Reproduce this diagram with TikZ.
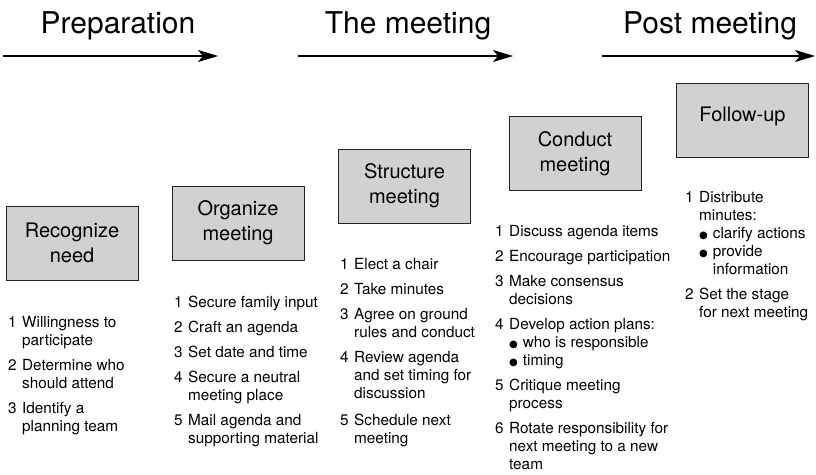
\documentclass[tikz,border=0pt]{standalone}
\usepackage{fontspec}
\setmainfont{TeX Gyre Heros}
\newfontfamily\symfont{DejaVu Sans}
\usetikzlibrary{arrows.meta}

\tikzset{
  phase/.style={font=\fontsize{30}{36}\selectfont, anchor=base, inner sep=0pt},
  stage/.style={draw=black!85, fill=black!18, line width=0.9pt, minimum width=132pt,
    minimum height=74pt, inner sep=0pt, align=center, font=\fontsize{20}{25}\selectfont},
  tasks/.style={anchor=base west, inner sep=0pt, font=\fontsize{15.3}{18}\selectfont},
  timeline/.style={line width=1.3pt, -{Stealth[length=20pt,width=12pt,inset=5pt]}}
}
\newcommand{\bul}{{\symfont\fontsize{10}{12}\selectfont ●}\hspace{5pt}}
\newenvironment{steplist}{\begin{tabular}[t]{@{}l@{\hspace{5.5pt}}l@{}}}{\end{tabular}}

\begin{document}
\begin{tikzpicture}[x=1pt,y=-1pt]
    \useasboundingbox (0,0) rectangle (816,474);

    % Define the arrow ends
    \coordinate (p0) at (3,56);   \coordinate (p1) at (218,56);
    \coordinate (m0) at (298,56); \coordinate (m1) at (513,56);
    \coordinate (f0) at (602,56); \coordinate (f1) at (815,56);

    % Draw the phases
    \node[phase] (prep) at (118,33) {Preparation};
    \node[phase] (meet) at (408,33) {The meeting};
    \node[phase] (post) at (710,33) {Post meeting};
    \draw[timeline] (p0) -- (p1);
    \draw[timeline] (m0) -- (m1);
    \draw[timeline] (f0) -- (f1);

    % Draw the stages
    \node[stage] (need) at (72,243) {Recognize\\need};
    \node[stage] (organize) at (238,223) {Organize\\meeting};
    \node[stage] (structure) at (404.5,186) {Structure\\meeting};
    \node[stage] (conduct) at (575,153.5) {Conduct\\meeting};
    \node[stage, text depth=12pt] (follow) at (742.5,120) {Follow-up};

    % Draw the task lists
    \node[tasks] (needlist) at (8,327) {\begin{steplist}
      1 & Willingness to\\
        & participate\\[7pt]
      2 & Determine who\\
        & should attend\\[7pt]
      3 & Identify a\\
        & planning team
    \end{steplist}};
    \node[tasks] (organizelist) at (174,307) {\begin{steplist}
      1 & Secure family input\\[7pt]
      2 & Craft an agenda\\[7pt]
      3 & Set date and time\\[7pt]
      4 & Secure a neutral\\
        & meeting place\\[7pt]
      5 & Mail agenda and\\
        & supporting material
    \end{steplist}};
    \node[tasks] (structurelist) at (340,269) {\begin{steplist}
      1 & Elect a chair\\[7pt]
      2 & Take minutes\\[7pt]
      3 & Agree on ground\\
        & rules and conduct\\[7pt]
      4 & Review agenda\\
        & and set timing for\\
        & discussion\\[9pt]
      5 & Schedule next\\
        & meeting
    \end{steplist}};
    \node[tasks] (conductlist) at (495,236) {\begin{steplist}
      1 & Discuss agenda items\\[7pt]
      2 & Encourage participation\\[7pt]
      3 & Make consensus\\
        & decisions\\[7pt]
      4 & Develop action plans:\\
        & \bul who is responsible\\
        & \bul timing\\[7pt]
      5 & Critique meeting\\
        & process\\[7pt]
      6 & Rotate responsibility for\\
        & next meeting to a new\\
        & team
    \end{steplist}};
    \node[tasks] (followlist) at (685,202) {\begin{steplist}
      1 & Distribute\\
        & minutes:\\
        & \bul clarify actions\\
        & \bul provide\\
        & \phantom{\bul}information\\[7pt]
      2 & Set the stage\\
        & for next meeting
    \end{steplist}};

\end{tikzpicture}
\end{document}
